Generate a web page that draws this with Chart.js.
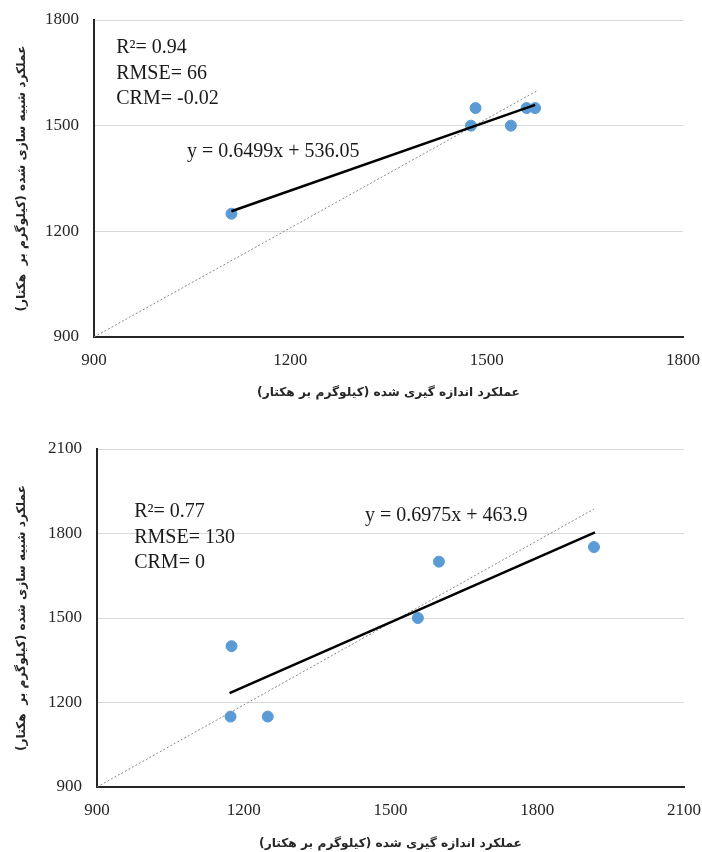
<!DOCTYPE html>
<html lang="fa">
<head>
<meta charset="utf-8">
<title>عملکرد اندازه گیری شده و شبیه سازی شده</title>
<script src="https://cdn.jsdelivr.net/npm/chart.js@4.4.1/dist/chart.umd.min.js"></script>
<style>
  html, body { margin: 0; padding: 0; background: #fff; }
  #wrap { width: 702px; height: 852px; }
  canvas { display: block; }
</style>
</head>
<body>
<div id="wrap">
  <canvas id="chart-top" width="702" height="410"></canvas>
  <canvas id="chart-bottom" width="702" height="442"></canvas>
</div>
<script>
// titulos dos eixos (RLM no fim para o parentese ficar no lugar certo)
const xTitle = 'عملکرد اندازه گیری شده (کیلوگرم بر هکتار)\u200F';
const yTitle = 'عملکرد شبیه سازی شده (کیلوگرم بر  هکتار)\u200F';

// grafico de cima
const ticksTop = [900, 1200, 1500, 1800];
const measuredTop = [1110, 1476, 1483, 1537, 1561, 1574];
const simulatedTop = [1250, 1500, 1550, 1500, 1550, 1550];
const trendXTop = [1110, 1574];
const trendYTop = [1257, 1559];
const diagXTop = [900, 1578];
const diagYTop = [900, 1600];
const statsTop = ['R²= 0.94', 'RMSE= 66', 'CRM= -0.02'];
const equationTop = 'y = 0.6499x + 536.05';

// grafico de baixo
const ticksBottom = [900, 1200, 1500, 1800, 2100];
const measuredBottom = [1175, 1173, 1249, 1556, 1599, 1916];
const simulatedBottom = [1400, 1150, 1150, 1500, 1700, 1752];
const trendXBottom = [1171, 1918];
const trendYBottom = [1233, 1804];
const diagXBottom = [900, 1916];
const diagYBottom = [900, 1887];
const statsBottom = ['R²= 0.77', 'RMSE= 130', 'CRM= 0'];
const equationBottom = 'y = 0.6975x + 463.9';

const serif = 'Liberation Serif';
const persianFont = { family: 'DejaVu Sans', size: 12.2, weight: 'bold' };

function toPoints(xs, ys) {
    return xs.map((x, i) => ({ x: x, y: ys[i] }));
}

// escreve R2, RMSE, CRM e a equacao dentro da area do grafico
const statsText = {
    id: 'statsText',
    afterDatasetsDraw(chart, args, opts) {
        const ctx = chart.ctx;
        const x = chart.scales.x;
        const y = chart.scales.y;
        ctx.save();
        ctx.font = '20px "' + serif + '"';
        ctx.fillStyle = '#1a1a1a';
        ctx.textAlign = 'left';
        ctx.textBaseline = 'middle';
        const sx = x.getPixelForValue(opts.statsAt[0]);
        const sy = y.getPixelForValue(opts.statsAt[1]);
        opts.stats.forEach((t, i) => ctx.fillText(t, sx, sy + i * 25.5));
        ctx.fillText(opts.equation, x.getPixelForValue(opts.eqAt[0]), y.getPixelForValue(opts.eqAt[1]));
        ctx.restore();
    }
};

function makeChart(id, d) {
    const ctx = document.getElementById(id).getContext('2d');
    return new Chart(ctx, {
        type: 'scatter',
        data: {
            datasets: [{
                type: 'line',
                data: toPoints(d.trendX, d.trendY),
                borderColor: '#000',
                borderWidth: 2.5,
                pointRadius: 0
            }, {
                type: 'line',
                data: toPoints(d.diagX, d.diagY),
                borderColor: '#8a8a8a',
                borderWidth: 1,
                borderDash: [2, 2],
                pointRadius: 0
            }, {
                data: toPoints(d.measured, d.simulated),
                backgroundColor: '#5b9bd5',
                borderColor: '#5b9bd5',
                pointRadius: 5.5
            }]
        },
        options: {
            responsive: false,
            animation: false,
            devicePixelRatio: 1,
            events: [],
            layout: { padding: { top: d.padTop, right: d.padRight, left: 0, bottom: 0 } },
            plugins: {
                legend: { display: false },
                tooltip: { enabled: false },
                statsText: { stats: d.stats, statsAt: d.statsAt, equation: d.equation, eqAt: d.eqAt }
            },
            scales: {
                x: {
                    type: 'linear',
                    min: d.ticks[0],
                    max: d.ticks[d.ticks.length - 1],
                    afterBuildTicks: s => { s.ticks = d.ticks.map(v => ({ value: v })); },
                    // tamanho fixo, sem a folga automatica dos rotulos
                    afterFit: s => { s.height = d.xHeight; s.paddingLeft = 0; s.paddingRight = 0; },
                    grid: { display: false, drawTicks: false },
                    border: { display: true, color: '#262626', width: 2 },
                    ticks: {
                        color: '#262626', padding: 13, font: { family: serif, size: 17 },
                        callback: v => String(v)
                    },
                    title: {
                        display: true, text: xTitle, color: '#262626', font: persianFont,
                        padding: { top: 0, bottom: d.xTitlePad }
                    }
                },
                y: {
                    type: 'linear',
                    min: d.ticks[0],
                    max: d.ticks[d.ticks.length - 1],
                    afterBuildTicks: s => { s.ticks = d.ticks.map(v => ({ value: v })); },
                    afterFit: s => { s.width = d.yWidth; s.paddingTop = 0; s.paddingBottom = 0; },
                    grid: { color: '#d9d9d9', lineWidth: 1, drawTicks: false },
                    border: { display: true, color: '#262626', width: 2 },
                    ticks: {
                        color: '#262626', padding: 15, font: { family: serif, size: 17 },
                        callback: v => String(v)
                    },
                    title: {
                        display: true, text: yTitle, color: '#262626', font: persianFont,
                        padding: { top: 15, bottom: 0 }
                    }
                }
            }
        },
        plugins: [statsText]
    });
}

makeChart('chart-top', {
    ticks: ticksTop, measured: measuredTop, simulated: simulatedTop,
    trendX: trendXTop, trendY: trendYTop, diagX: diagXTop, diagY: diagYTop,
    stats: statsTop, statsAt: [934, 1720], equation: equationTop, eqAt: [1042, 1425],
    padTop: 20, padRight: 19, yWidth: 94, xHeight: 73, xTitlePad: 10
});

makeChart('chart-bottom', {
    ticks: ticksBottom, measured: measuredBottom, simulated: simulatedBottom,
    trendX: trendXBottom, trendY: trendYBottom, diagX: diagXBottom, diagY: diagYBottom,
    stats: statsBottom, statsAt: [976, 1876], equation: equationBottom, eqAt: [1448, 1862],
    padTop: 39, padRight: 18, yWidth: 97, xHeight: 65, xTitlePad: 1
});
</script>
</body>
</html>
